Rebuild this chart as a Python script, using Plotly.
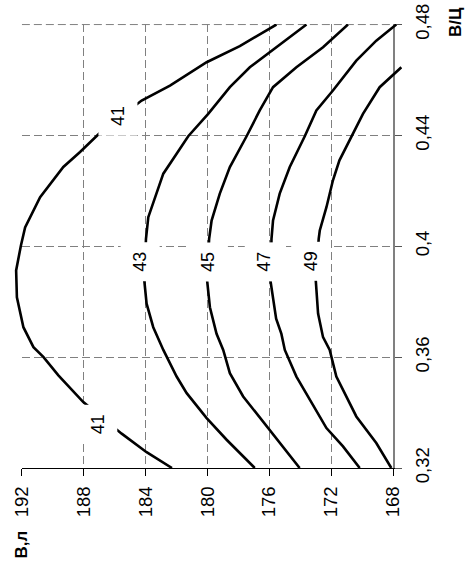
import plotly.graph_objects as go

# ---- data (В,л on horizontal axis, В/Ц on vertical axis) ----
x_ticks = [192, 188, 184, 180, 176, 172, 168]
y_ticks = [0.32, 0.36, 0.40, 0.44, 0.48]
y_ticktext = ["0,32", "0,36", "0,4", "0,44", "0,48"]

c41_y = [0.32, 0.3257, 0.3324, 0.3438, 0.3534, 0.36, 0.3636, 0.3708, 0.3816, 0.3913,
         0.4003, 0.4068, 0.4177, 0.4286, 0.434, 0.4412, 0.4526, 0.458, 0.4664, 0.4722, 0.48]
c41_x = [182.3, 183.94, 185.55, 188.03, 189.64, 190.6, 191.25, 191.9, 192.32, 192.37,
         192.06, 191.79, 190.82, 189.32, 188.24, 186.9, 184.26, 182.43, 180.06, 177.92, 175.55]

c43_y = [0.32, 0.3302, 0.338, 0.347, 0.353, 0.3626, 0.3708, 0.3793, 0.3877, 0.4027,
         0.4105, 0.4177, 0.4262, 0.4334, 0.4397, 0.4478, 0.4574, 0.4646, 0.47, 0.48]
c43_x = [176.95, 178.77, 180.06, 181.35, 182.0, 182.86, 183.51, 183.94, 184.09, 183.98,
         183.83, 183.4, 182.86, 182.0, 181.25, 179.96, 178.56, 177.27, 175.98, 173.61]

c45_y = [0.32, 0.329, 0.3368, 0.3458, 0.3542, 0.3626, 0.3684, 0.378, 0.3877, 0.4027,
         0.4093, 0.419, 0.4286, 0.4397, 0.449, 0.4574, 0.4646, 0.4718, 0.48]
c45_x = [174.05, 175.34, 176.41, 177.7, 178.56, 178.99, 179.42, 179.85, 180.03, 179.9,
         179.74, 179.21, 178.56, 177.48, 176.63, 175.77, 174.26, 172.54, 170.93]

c47_y = [0.32, 0.3278, 0.3344, 0.3446, 0.353, 0.3626, 0.3684, 0.3739, 0.3877, 0.4027,
         0.4093, 0.419, 0.4286, 0.4397, 0.449, 0.4562, 0.467, 0.4742, 0.48]
c47_x = [170.17, 171.25, 172.32, 173.4, 174.26, 175.01, 175.23, 175.57, 175.94, 175.87,
         175.77, 175.34, 174.69, 173.72, 172.97, 171.9, 170.39, 169.1, 167.81]

c49_y = [0.32, 0.329, 0.3386, 0.353, 0.3626, 0.3672, 0.3757, 0.3877, 0.4027, 0.4057,
         0.4141, 0.4238, 0.431, 0.4397, 0.4478, 0.4574, 0.4646]
c49_x = [168.13, 169.1, 170.39, 171.68, 172.11, 172.54, 172.86, 173.01, 172.82, 172.75,
         172.32, 171.9, 171.48, 170.71, 169.96, 168.88, 167.48]

label_text = ["41", "41", "43", "45", "47", "49"]
label_x = [187.11, 185.82, 184.37, 179.96, 176.35, 173.35]
label_y = [0.3356, 0.4468, 0.3944, 0.3944, 0.3944, 0.3944]

curves = [(c41_x, c41_y), (c43_x, c43_y), (c45_x, c45_y), (c47_x, c47_y), (c49_x, c49_y)]

# ---- layout geometry (pixels) ----
W, H = 466, 570
ML, MT = 12, 24
PLOT_RIGHT, PLOT_BOTTOM = 402, 468
MR, MB = W - PLOT_RIGHT, H - PLOT_BOTTOM
PW = W - ML - MR
PH = H - MT - MB
AX_LEFT_PX, AX_RIGHT_PX = 21.7, 393.3
d0 = (AX_LEFT_PX - ML) / PW
d1 = (AX_RIGHT_PX - ML) / PW
xr = [max(x_ticks) + 0.01, min(x_ticks)]
scale = (xr[1] - xr[0]) / (d1 - d0)
x2r = [xr[0] + (0 - d0) * scale, xr[0] + (1 - d0) * scale]
yr = [min(y_ticks), max(y_ticks) + 0.0002]


def px_x(px):
    return (px - ML) / PW


def px_y(py):
    return (PLOT_BOTTOM - py) / PH


FONT = "Liberation Sans, Arial, sans-serif"
GRID = "#808080"
DASH = "8px,4px"

fig = go.Figure()
for cx, cy in curves:
    fig.add_trace(go.Scatter(x=cx, y=cy, mode="lines", xaxis="x2", yaxis="y2",
                             line=dict(color="black", width=2.6),
                             showlegend=False, hoverinfo="skip"))

# top frame edge drawn as a dashed grid line (top tick value of the В/Ц axis)
fig.add_shape(type="line", xref="x", yref="y", x0=max(x_ticks), x1=min(x_ticks),
              y0=max(y_ticks), y1=max(y_ticks), layer="below",
              line=dict(color=GRID, width=1, dash=DASH))

for t, lx, ly in zip(label_text, label_x, label_y):
    fig.add_annotation(x=lx, y=ly, xref="x", yref="y", text=t, showarrow=False,
                       textangle=-90, font=dict(family=FONT, size=18, color="black"),
                       bgcolor="white", borderpad=9, xanchor="center", yanchor="middle")

fig.add_annotation(x=px_x(20.5), y=px_y(545), xref="paper", yref="paper", text="<b>В,л</b>",
                   showarrow=False, textangle=-90, xanchor="center", yanchor="middle",
                   font=dict(family=FONT, size=17, color="black"), borderpad=0)
fig.add_annotation(x=px_x(455.5), y=px_y(22.5), xref="paper", yref="paper", text="<b>В/Ц</b>",
                   showarrow=False, textangle=-90, xanchor="center", yanchor="middle",
                   font=dict(family=FONT, size=17, color="black"), borderpad=0)

fig.update_layout(
    width=W, height=H,
    margin=dict(l=ML, r=MR, t=MT, b=MB, pad=0, autoexpand=False),
    paper_bgcolor="white", plot_bgcolor="rgba(0,0,0,0)",
    showlegend=False,
    xaxis=dict(domain=[d0, d1], range=xr, tickmode="array", tickvals=x_ticks,
               ticktext=[str(v) for v in x_ticks], tickangle=-90,
               showgrid=True, gridcolor=GRID, gridwidth=1, griddash=DASH,
               showline=True, linecolor="black", linewidth=1,
               ticks="outside", ticklen=7, tickcolor="black", tickwidth=1,
               ticklabelstandoff=3, automargin=False,
               tickfont=dict(family=FONT, size=18.5, color="black"),
               zeroline=False, anchor="y"),
    yaxis=dict(domain=[0, 1], range=yr, side="right",
               tickmode="array", tickvals=y_ticks, ticktext=y_ticktext, tickangle=-90,
               showgrid=True, gridcolor=GRID, gridwidth=1, griddash=DASH,
               showline=True, linecolor=GRID, linewidth=1.3,
               ticks="outside", ticklen=7, tickcolor="#555555", tickwidth=1,
               ticklabelstandoff=5, automargin=False,
               tickfont=dict(family=FONT, size=18.5, color="black"),
               zeroline=False, anchor="x"),
    xaxis2=dict(domain=[0, 1], range=x2r, visible=False, anchor="y2", showgrid=False),
    yaxis2=dict(domain=[0, 1], range=yr, visible=False,
                anchor="x2", showgrid=False),
)

fig.write_html("out.html", config={"displayModeBar": False, "staticPlot": True},
               post_script="document.body.style.margin='0';document.body.style.overflow='hidden';")
